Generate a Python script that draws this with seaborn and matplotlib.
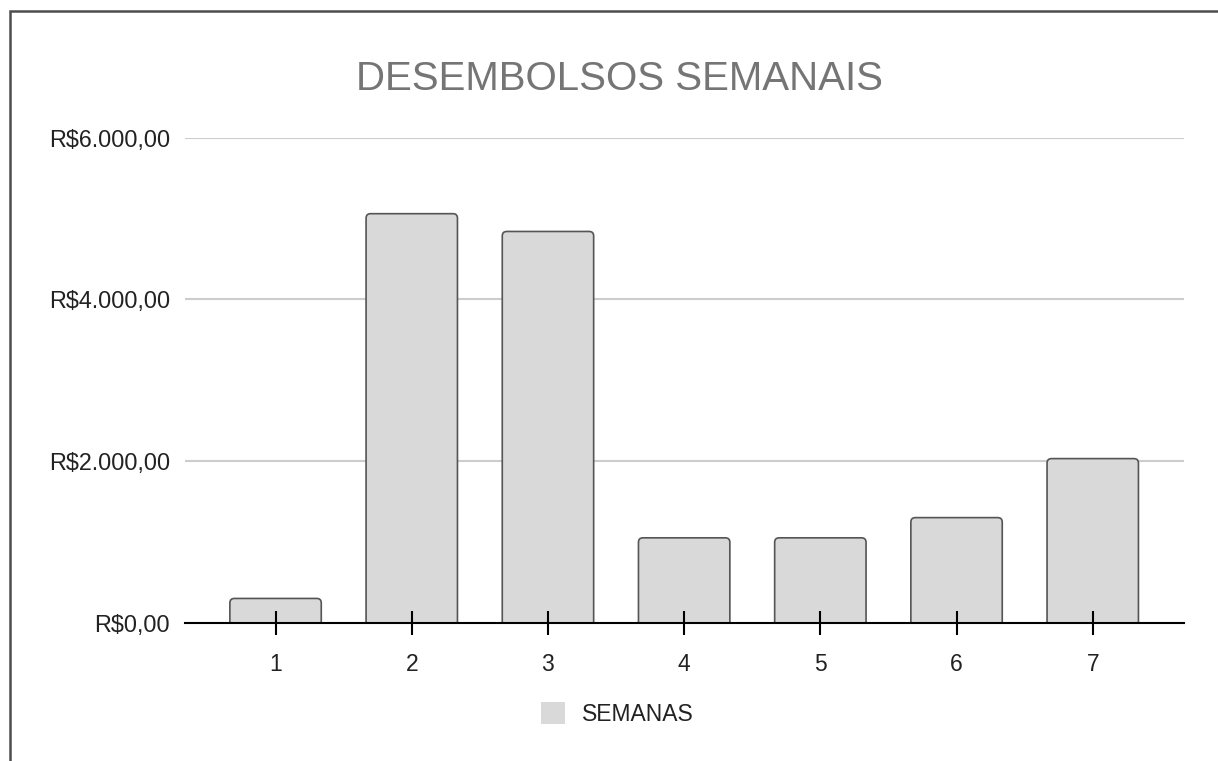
import matplotlib
matplotlib.use("Agg")
import matplotlib.pyplot as plt
import seaborn as sns
import pandas as pd
from matplotlib.patches import FancyBboxPatch, Rectangle
from matplotlib.lines import Line2D

# ---- data ----
weeks = ["1", "2", "3", "4", "5", "6", "7"]
values = [300, 5060, 4840, 1050, 1050, 1300, 2030]
yticks = [0, 2000, 4000, 6000]
ytick_labels = ["R$0,00", "R$2.000,00", "R$4.000,00", "R$6.000,00"]
title_text = "DESEMBOLSOS SEMANAIS"
series_name = "SEMANAS"

sns.set_theme(style="white")
plt.rcParams['font.family'] = ['Liberation Sans', 'DejaVu Sans']

W, H = 1218, 761
fig = plt.figure(figsize=(W / 100, H / 100), dpi=100)
fig.patch.set_facecolor("white")

x0, x1 = 185, 1184
y0, y1 = 622.7, 137.7
ax = fig.add_axes([x0 / W, 1 - y0 / H, (x1 - x0) / W, (y0 - y1) / H])

df = pd.DataFrame({"week": weeks, "value": values})
sns.barplot(data=df, x="week", y="value", ax=ax, color="#d9d9d9",
            saturation=1, width=0.671, edgecolor="#555555", linewidth=1.2)

ax.set_xlim(-0.665, 6.67)
ax.set_ylim(0, 6000)
ax.set_xlabel("")
ax.set_ylabel("")

# rounded bar tops
sx = ax.transData.transform((1, 0))[0] - ax.transData.transform((0, 0))[0]
sy = ax.transData.transform((0, 1))[1] - ax.transData.transform((0, 0))[1]
r_px = 4.5
for p in list(ax.patches):
    bx, by = p.get_x(), p.get_y()
    bw, bh = p.get_width(), p.get_height()
    p.set_visible(False)
    extra = 200
    fb = FancyBboxPatch((bx, by - extra), bw, bh + extra,
                        boxstyle=f"round,pad=0,rounding_size={r_px / sx}",
                        mutation_aspect=sx / sy,
                        facecolor="#d9d9d9", edgecolor="#555555",
                        linewidth=1.2, zorder=1)
    ax.add_patch(fb)

# gridlines below bars
for yv in yticks[1:]:
    ax.axhline(yv, color="#cccccc", linewidth=1.5, zorder=0)
ax.grid(False)
ax.set_axisbelow(False)

for s in ["top", "right", "left"]:
    ax.spines[s].set_visible(False)
ax.spines["bottom"].set_color("black")
ax.spines["bottom"].set_linewidth(1.5)
ax.spines["bottom"].set_zorder(3)

ax.set_yticks(yticks)
ax.set_yticklabels(ytick_labels)
ax.tick_params(axis="y", length=0, pad=10.8, labelsize=16.8, labelcolor="#222222")
ax.tick_params(axis="x", direction="inout", length=17.3, width=1.5, color="black",
               pad=13, labelsize=16.5, labelcolor="#222222", bottom=True)

fig.text(619.5 / W, 1 - 90 / H, title_text, ha="center", va="baseline",
         fontsize=29, color="#757575")

handle = Rectangle((0, 0), 1, 1, facecolor="#d9d9d9", edgecolor="none")
leg = fig.legend([handle], [series_name], loc="center",
                 bbox_to_anchor=(617 / W, 1 - 714 / H), bbox_transform=fig.transFigure,
                 frameon=False, fontsize=16.5, handlelength=1.05, handleheight=1.05,
                 handletextpad=0.75, borderpad=0, borderaxespad=0)
for t in leg.get_texts():
    t.set_color("#222222")

# outer frame (partially cropped)
fig.add_artist(Line2D([10 / W, 10 / W, 1.01], [-0.01, 1 - 11 / H, 1 - 11 / H],
                      transform=fig.transFigure, color="#4d4d4d", linewidth=1.8,
                      solid_joinstyle="miter"))

fig.savefig("out.png", dpi=100, facecolor="white")
